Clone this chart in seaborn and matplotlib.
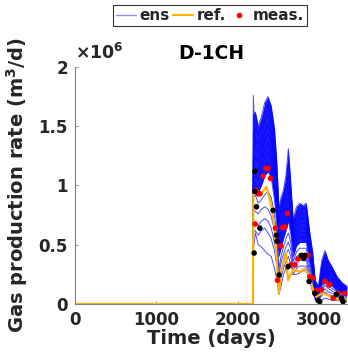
import numpy as np
import pandas as pd
import matplotlib
matplotlib.use("Agg")
import matplotlib.pyplot as plt
import seaborn as sns
from matplotlib.lines import Line2D
from matplotlib.ticker import FuncFormatter

# ---------------- data (rates in 1e6 m3/d) ----------------
t_pre = [0, 2185]
t_ens = [2190, 2215, 2250, 2290, 2330, 2370, 2410, 2450, 2480, 2505, 2530,
         2560, 2590, 2620, 2650, 2680, 2720, 2760, 2800, 2840, 2880, 2920,
         2950, 2990, 3030, 3070, 3110, 3160, 3220, 3280, 3340]

ens_01 = [1.60, 1.62, 1.50, 1.58, 1.70, 1.75, 1.67, 1.48, 1.18, 0.80, 0.90, 0.96, 1.08, 1.31, 1.02, 0.71, 0.82, 0.85, 0.83, 0.85, 0.62, 0.43, 0.20, 0.15, 0.37, 0.45, 0.37, 0.31, 0.23, 0.18, 0.15]
ens_02 = [1.45, 1.50, 1.42, 1.50, 1.62, 1.68, 1.60, 1.40, 1.10, 0.78, 0.86, 0.92, 1.02, 1.20, 0.98, 0.68, 0.78, 0.80, 0.80, 0.80, 0.58, 0.40, 0.18, 0.13, 0.33, 0.42, 0.34, 0.29, 0.21, 0.16, 0.14]
ens_03 = [1.30, 1.40, 1.35, 1.42, 1.55, 1.60, 1.52, 1.30, 1.00, 0.72, 0.80, 0.88, 0.98, 1.10, 0.92, 0.64, 0.74, 0.77, 0.76, 0.76, 0.55, 0.36, 0.16, 0.12, 0.30, 0.40, 0.31, 0.27, 0.20, 0.15, 0.13]
ens_04 = [1.76, 1.30, 1.28, 1.35, 1.45, 1.52, 1.45, 1.22, 0.95, 0.68, 0.76, 0.84, 0.92, 1.02, 0.86, 0.60, 0.70, 0.72, 0.72, 0.72, 0.52, 0.34, 0.15, 0.11, 0.28, 0.37, 0.29, 0.25, 0.18, 0.14, 0.12]
ens_05 = [1.20, 1.25, 1.20, 1.28, 1.38, 1.44, 1.38, 1.15, 0.90, 0.62, 0.70, 0.78, 0.86, 0.95, 0.80, 0.56, 0.66, 0.68, 0.68, 0.68, 0.48, 0.31, 0.13, 0.10, 0.25, 0.34, 0.27, 0.23, 0.17, 0.13, 0.11]
ens_06 = [1.10, 1.15, 1.12, 1.20, 1.30, 1.36, 1.30, 1.08, 0.84, 0.56, 0.64, 0.72, 0.80, 0.88, 0.75, 0.52, 0.61, 0.64, 0.64, 0.64, 0.45, 0.28, 0.12, 0.09, 0.22, 0.31, 0.25, 0.21, 0.15, 0.12, 0.10]
ens_07 = [1.05, 1.08, 1.05, 1.12, 1.22, 1.28, 1.22, 1.00, 0.78, 0.50, 0.58, 0.66, 0.74, 0.82, 0.70, 0.48, 0.57, 0.60, 0.60, 0.60, 0.42, 0.26, 0.10, 0.08, 0.20, 0.28, 0.22, 0.19, 0.14, 0.11, 0.09]
ens_08 = [1.00, 1.02, 0.98, 1.05, 1.15, 1.20, 1.14, 0.94, 0.72, 0.45, 0.52, 0.60, 0.68, 0.76, 0.64, 0.44, 0.53, 0.56, 0.56, 0.56, 0.39, 0.24, 0.09, 0.07, 0.18, 0.25, 0.20, 0.17, 0.12, 0.10, 0.08]
ens_09 = [0.95, 0.98, 0.94, 1.00, 1.08, 1.12, 1.06, 0.88, 0.66, 0.40, 0.47, 0.55, 0.62, 0.70, 0.59, 0.40, 0.49, 0.52, 0.52, 0.52, 0.36, 0.22, 0.08, 0.06, 0.16, 0.22, 0.18, 0.15, 0.11, 0.09, 0.07]
ens_10 = [0.90, 0.92, 0.85, 0.88, 0.92, 0.95, 0.90, 0.75, 0.55, 0.30, 0.40, 0.48, 0.55, 0.60, 0.52, 0.36, 0.44, 0.47, 0.47, 0.47, 0.32, 0.19, 0.07, 0.05, 0.13, 0.19, 0.15, 0.13, 0.10, 0.08, 0.06]
ens_11 = [0.80, 0.78, 0.76, 0.80, 0.82, 0.80, 0.74, 0.62, 0.48, 0.25, 0.35, 0.42, 0.48, 0.52, 0.46, 0.32, 0.40, 0.42, 0.42, 0.42, 0.28, 0.16, 0.06, 0.04, 0.11, 0.16, 0.13, 0.11, 0.08, 0.07, 0.05]
ens_12 = [0.70, 0.68, 0.66, 0.70, 0.72, 0.70, 0.64, 0.52, 0.40, 0.18, 0.28, 0.36, 0.42, 0.46, 0.40, 0.28, 0.35, 0.37, 0.37, 0.37, 0.24, 0.13, 0.05, 0.03, 0.09, 0.13, 0.10, 0.09, 0.07, 0.05, 0.04]
ens_13 = [0.60, 0.62, 0.58, 0.62, 0.64, 0.60, 0.55, 0.45, 0.32, 0.12, 0.22, 0.30, 0.36, 0.40, 0.34, 0.25, 0.30, 0.32, 0.32, 0.32, 0.21, 0.11, 0.04, 0.03, 0.07, 0.10, 0.08, 0.07, 0.05, 0.04, 0.03]
ens_14 = [0.45, 0.60, 0.50, 0.48, 0.45, 0.42, 0.40, 0.30, 0.20, 0.08, 0.15, 0.25, 0.30, 0.22, 0.25, 0.25, 0.25, 0.26, 0.28, 0.28, 0.20, 0.10, 0.04, 0.02, 0.03, 0.05, 0.04, 0.03, 0.03, 0.02, 0.02]
ens_members = [ens_01, ens_02, ens_03, ens_04, ens_05, ens_06, ens_07,
               ens_08, ens_09, ens_10, ens_11, ens_12, ens_13, ens_14]
dense_top, dense_bottom = ens_01, ens_09

t_ref = [0, 2185, 2190, 2249, 2290, 2352, 2413, 2454, 2503, 2536, 2589, 2617,
         2679, 2761, 2822, 2863, 2924, 2965, 3027, 3088, 3170, 3252, 3333]
ref = [0, 0, 0.93, 0.95, 0.93, 0.99, 0.82, 0.62, 0.09, 0.29, 0.43, 0.20,
       0.29, 0.27, 0.30, 0.26, 0.12, 0.06, 0.09, 0.08, 0.05, 0.035, 0.035]

t_black = [2209, 2209, 2229, 2270, 2200, 2433, 2474, 2480, 2507, 2617, 2781,
           2822, 2810, 2875, 2945, 2986, 3006, 3211, 3272, 3292]
v_black = [1.12, 0.95, 0.82, 0.64, 0.43, 0.79, 0.58, 0.53, 0.245, 0.315, 0.41,
           0.41, 0.385, 0.19, 0.09, 0.03, 0.02, 0.08, 0.05, 0.02]

t_meas = [2221, 2249, 2270, 2213, 2311, 2343, 2372, 2400, 2609, 2462, 2548,
          2581, 2528, 2487, 2650, 2703, 2740, 2863, 2883, 2924, 2965, 3027,
          3068, 3129, 3170, 3231, 3313, 3121]
v_meas = [0.96, 0.93, 0.93, 0.675, 1.08, 1.145, 1.145, 1.06, 0.765, 0.64, 0.645,
          0.65, 0.49, 0.20, 0.33, 0.33, 0.38, 0.41, 0.23, 0.22, 0.115, 0.12,
          0.19, 0.165, 0.05, 0.09, 0.09, 0.16]

x_ticks = [0, 1000, 2000, 3000]
y_ticks = [0, 0.5, 1, 1.5, 2]
title = "D-1CH"

# ---------------- plot ----------------
sns.set_theme(style="white")
plt.rcParams["font.family"] = ["DejaVu Sans"]
plt.rcParams["font.weight"] = "bold"

fig = plt.figure(figsize=(3.48, 3.55), dpi=100)
ax = fig.add_axes([0.2155, 0.1437, 0.7815, 0.6676])

blue = "#0000FF"
orange = "#FFB300"

ax.fill_between(t_ens, dense_bottom, dense_top, color=blue, lw=0, alpha=0.9)
for m in ens_members:
    d = pd.DataFrame({"t": t_pre + t_ens, "v": [0, 0] + m})
    sns.lineplot(data=d, x="t", y="v", ax=ax, color=blue, lw=0.7,
                 alpha=0.7, estimator=None, sort=False, legend=False)

sns.lineplot(x=t_ref, y=ref, ax=ax, color=orange, lw=1.6,
             estimator=None, sort=False, legend=False)
sns.scatterplot(x=t_meas, y=v_meas, ax=ax, color="red", s=16,
                edgecolor="none", zorder=5, legend=False)
sns.scatterplot(x=t_black, y=v_black, ax=ax, color="black", s=16,
                edgecolor="none", zorder=6, legend=False)

ax.set_xlim(0, 3340)
ax.set_ylim(0, 2)
ax.set_xticks(x_ticks)
ax.set_yticks(y_ticks)
ax.yaxis.set_major_formatter(FuncFormatter(lambda v, p: f"{v:g}"))
ax.tick_params(direction="in", length=2.5, width=0.6, colors="0.5",
               labelcolor="#262626", labelsize=12, pad=5, bottom=True, left=True)
for lab in ax.get_xticklabels() + ax.get_yticklabels():
    lab.set_fontweight("bold")
for s in ["top", "right"]:
    ax.spines[s].set_visible(False)
for s in ["left", "bottom"]:
    ax.spines[s].set_color("0.5")
    ax.spines[s].set_linewidth(0.8)

ax.set_xlabel("Time (days)", fontsize=14, fontweight="bold", color="#262626", labelpad=0)
ax.set_ylabel("Gas production rate (m$^\\mathbf{3}$/d)", fontsize=14,
              fontweight="bold", color="#262626", labelpad=6)
ax.set_title(title, fontsize=13.5, fontweight="bold", color="black", pad=6)
ax.text(0.0, 1.015, "$\\times$10$^6$", transform=ax.transAxes, fontsize=12.5,
        ha="left", va="bottom", color="#262626")

handles = [Line2D([], [], color=blue, lw=1, alpha=0.45),
           Line2D([], [], color=orange, lw=1.5),
           Line2D([], [], color="red", marker="o", ls="none", markersize=3)]
leg = fig.legend(handles, ["ens", "ref.", "meas."], loc="upper center",
                 bbox_to_anchor=(210 / 348, 1 - 5 / 355), ncol=3,
                 frameon=True, fancybox=False, handlelength=1.3,
                 handletextpad=0.2, columnspacing=0.25, borderpad=0.2,
                 borderaxespad=0.0,
                 prop={"weight": "bold", "size": 11})
leg.get_frame().set_edgecolor("black")
leg.get_frame().set_linewidth(0.8)

fig.savefig("out.png", dpi=100)
